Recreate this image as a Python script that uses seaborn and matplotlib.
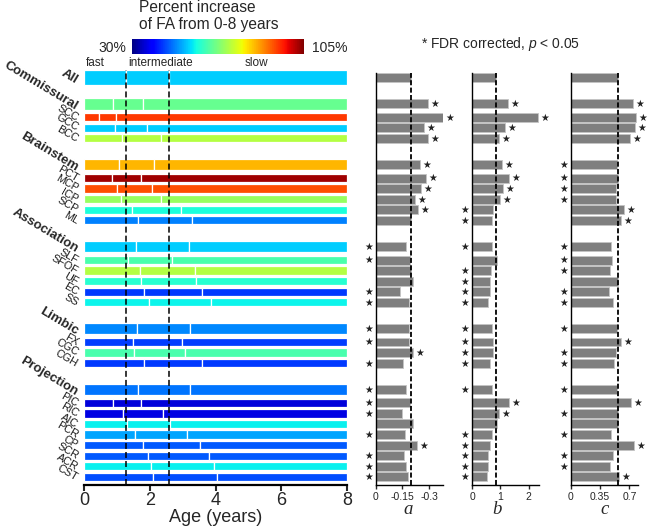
import numpy as np
import pandas as pd
import matplotlib
matplotlib.use("Agg")
import matplotlib.pyplot as plt
import matplotlib.colors as mcolors
import matplotlib.cm as cm
import seaborn as sns

sns.set_style("ticks")
plt.rcParams["font.family"] = ["Liberation Sans", "DejaVu Sans"]
plt.rcParams["mathtext.fontset"] = "custom"
plt.rcParams["mathtext.it"] = "Liberation Sans:italic"
plt.rcParams["mathtext.rm"] = "Liberation Sans"

# ---------------- data ----------------
rows = ["All", "Commissural", "SCC", "GCC", "BCC",
        "Brainstem", "PCT", "MCP", "ICP", "SCP", "ML",
        "Association", "SLF", "SFOF", "UF", "EC", "SS",
        "Limbic", "FX", "CGC", "CGH",
        "Projection", "PIC", "RIC", "AIC", "PCR", "CP", "SCR", "ACR", "CST"]
is_group = [True, True, False, False, False,
            True, False, False, False, False, False,
            True, False, False, False, False, False,
            True, False, False, False,
            True, False, False, False, False, False, False, False, False]

# percent increase of FA from 0-8 years (colour)
pct_increase = [54.4, 65.5, 93.8, 54.4, 72.5,
                83.7, 102.8, 92.0, 70.0, 59.0, 48.8,
                54.4, 63.0, 72.5, 59.8, 43.5, 57.5,
                49.6, 44.0, 63.0, 43.5,
                48.0, 36.0, 36.5, 57.2, 51.6, 46.0, 46.0, 57.0, 45.0]
# transition ages (years): fast -> intermediate, intermediate -> slow
break1 = [1.27, 0.89, 0.47, 0.94, 1.17,
          1.07, 0.86, 1.00, 1.14, 1.47, 1.64,
          1.58, 1.33, 1.70, 1.73, 1.81, 1.97,
          1.61, 1.49, 1.53, 1.81,
          1.63, 0.88, 1.18, 1.30, 1.56, 1.78, 1.95, 2.03, 2.09]
break2 = [2.59, 1.80, 0.97, 1.92, 2.35,
          2.14, 1.73, 2.06, 2.33, 2.95, 3.28,
          3.19, 2.68, 3.37, 3.40, 3.58, 3.85,
          3.23, 2.99, 3.06, 3.58,
          3.23, 1.73, 2.40, 2.61, 3.14, 3.52, 3.81, 3.96, 4.05]
age_max = 8

coef_a = [-0.200, -0.292, -0.377, -0.272, -0.296,
          -0.251, -0.285, -0.257, -0.223, -0.236, -0.200,
          -0.170, -0.191, -0.196, -0.211, -0.138, -0.189,
          -0.185, -0.187, -0.211, -0.151,
          -0.172, -0.191, -0.147, -0.211, -0.164, -0.230, -0.160, -0.172, -0.179]
coef_b = [0.86, 1.27, 2.33, 1.18, 0.96,
          1.05, 1.31, 1.11, 0.98, 0.76, 0.69,
          0.72, 0.87, 0.66, 0.65, 0.62, 0.56,
          0.71, 0.76, 0.74, 0.62,
          0.71, 1.31, 0.96, 0.88, 0.72, 0.64, 0.58, 0.55, 0.54]
coef_c = [0.567, 0.742, 0.782, 0.766, 0.710,
          0.552, 0.563, 0.540, 0.540, 0.631, 0.603,
          0.480, 0.488, 0.464, 0.567, 0.460, 0.508,
          0.552, 0.599, 0.544, 0.516,
          0.552, 0.718, 0.563, 0.567, 0.476, 0.754, 0.500, 0.472, 0.575]
# significance markers: R = star right of bar, L = star left of axis
sig_a = ["", "R", "R", "R", "R", "R", "R", "R", "R", "R", "",
         "L", "L", "", "", "L", "L", "L", "L", "R", "L",
         "L", "L", "L", "", "L", "R", "L", "L", "L"]
sig_b = ["", "R", "R", "R", "R", "R", "R", "R", "R", "L", "L",
         "L", "", "L", "L", "L", "L", "L", "L", "L", "L",
         "L", "R", "R", "", "L", "L", "L", "L", "L"]
sig_c = ["", "R", "R", "R", "R", "L", "L", "L", "L", "R", "R",
         "L", "L", "L", "", "L", "L", "L", "R", "L", "L",
         "L", "R", "L", "", "L", "R", "L", "L", "R"]

age_ticks = [0, 2, 4, 6, 8]
ticks_a = [0, -0.15, -0.3]
ticks_b = [0, 1, 2]
ticks_c = [0, 0.35, 0.7]
tick_labels_a = ["0", "-0.15", "-0.3"]
tick_labels_b = ["0", "1", "2"]
tick_labels_c = ["0", "0.35", "0.7"]

# ---------------- layout ----------------
W, H = 650, 530
fig = plt.figure(figsize=(W / 100, H / 100), dpi=100)


def px_rect(x0, y0, x1, y1):
    return [x0 / W, 1 - y1 / H, (x1 - x0) / W, (y1 - y0) / H]


U0, UPX = 77.5, 5.29


def px2u(p):
    return (p - U0) / UPX


ypos = []
u = 0.0
for i, g in enumerate(is_group):
    if i == 0:
        u = 0.0
    elif g:
        u += 5.0
    elif is_group[i - 1]:
        u += 2.5
    else:
        u += 2.0
    ypos.append(u)

cmap = plt.get_cmap("jet")
norm = mcolors.Normalize(30, 105)

# ---------------- left panel ----------------
axL = fig.add_axes(px_rect(84, 69.6, 347, 485))
for i in range(len(rows)):
    h = 2.8 if i == 0 else (2.15 if is_group[i] else 1.55)
    c = cmap(norm(pct_increase[i]))
    lefts = [0, break1[i], break2[i]]
    widths = [break1[i], break2[i] - break1[i], age_max - break2[i]]
    axL.barh([ypos[i]] * 3, widths, left=lefts, height=h, color=c,
             edgecolor="white", linewidth=0.9, zorder=2)
    if is_group[i]:
        axL.annotate(rows[i], xy=(0, ypos[i]), xytext=(-5.0, -2.5),
                     textcoords="offset points", rotation=-31,
                     rotation_mode="anchor", ha="right", va="center",
                     fontsize=9.5, fontweight="bold", annotation_clip=False)
    else:
        axL.annotate(rows[i], xy=(0, ypos[i]), xytext=(-4.8, -0.8),
                     textcoords="offset points", rotation=-30,
                     rotation_mode="anchor", ha="right", va="center",
                     fontsize=7.8, color="#1a1a1a", annotation_clip=False)
for b in (break1[0], break2[0]):
    axL.axvline(b, color="black", lw=1.1, ls=(0, (3.9, 2.0)), zorder=4)
axL.set_xlim(0, age_max)
axL.set_ylim(px2u(485), px2u(69.6))
axL.set_yticks([])
axL.set_xticks(age_ticks)
axL.tick_params(axis="x", length=4, width=1.5, labelsize=13, pad=1)
for s in ("left", "top", "right"):
    axL.spines[s].set_visible(False)
axL.spines["bottom"].set_linewidth(1.6)
axL.spines["bottom"].set_color("black")

fig.text(215.5 / W, 1 - 521.5 / H, "Age (years)", ha="center", va="baseline",
         fontsize=13)
fig.text(86 / W, 1 - 62.5 / H, "fast", ha="left", va="center", fontsize=8.5)
fig.text(128 / W, 1 - 62.5 / H, "intermediate", ha="left", va="center", fontsize=8.5)
fig.text(245 / W, 1 - 62.5 / H, "slow", ha="left", va="center", fontsize=8.5)

# colour bar
cax = fig.add_axes(px_rect(131.7, 39.3, 304, 54))
cb = fig.colorbar(cm.ScalarMappable(norm=norm, cmap=cmap), cax=cax,
                  orientation="horizontal")
cb.set_ticks([])
cb.outline.set_visible(False)
fig.text(126 / W, 1 - 47.5 / H, "30%", ha="right", va="center", fontsize=10)
fig.text(312 / W, 1 - 47.5 / H, "105%", ha="left", va="center", fontsize=10)
fig.text(139 / W, 1 - 12 / H, "Percent increase", ha="left", va="baseline",
         fontsize=11.2)
fig.text(139 / W, 1 - 28.5 / H, "of FA from 0-8 years", ha="left",
         va="baseline", fontsize=11.2)

fig.text(500.5 / W, 1 - 44 / H, r"* FDR corrected, $p$ < 0.05", ha="center",
         va="center", fontsize=10)

# ---------------- right panels ----------------
panels = [
    (coef_a, sig_a, (0, -0.377), ticks_a, tick_labels_a, 375.7, 442.7, "a", 408),
    (coef_b, sig_b, (0, 2.38), ticks_b, tick_labels_b, 472.0, 539.3, "b", 497),
    (coef_c, sig_c, (0, 0.805), ticks_c, tick_labels_c, 570.7, 638.3, "c", 605),
]
for vals, sig, xlim, ticks, tlabels, x0, x1, lab, labx in panels:
    ax = fig.add_axes(px_rect(x0, 73, x1, 485))
    df = pd.DataFrame({"value": vals, "pos": ypos})
    sns.barplot(data=df, x="value", y="pos", orient="y", native_scale=True,
                color="#7f7f7f", saturation=1, width=0.85, errorbar=None,
                edgecolor="#c4c4c4", linewidth=0.6, ax=ax, zorder=2)
    ax.axvline(vals[0], color="black", lw=1.3, ls=(0, (2.8, 1.3)), zorder=5)
    for i, s in enumerate(sig):
        if s == "R":
            ax.annotate("\u2605", xy=(vals[i], ypos[i]), xytext=(4.8, -0.3),
                        textcoords="offset points", ha="center", va="center",
                        fontsize=7, family="DejaVu Sans", color="#222222",
                        annotation_clip=False)
        elif s == "L":
            ax.annotate("\u2605", xy=(0, ypos[i]), xytext=(-5.0, -0.3),
                        textcoords="offset points", ha="center", va="center",
                        fontsize=7, family="DejaVu Sans", color="#222222",
                        annotation_clip=False)
    ax.set_xlim(*xlim)
    ax.set_ylim(px2u(485), px2u(73))
    ax.set_yticks([])
    ax.set_xticks(ticks)
    ax.set_xticklabels(tlabels)
    ax.set_xlabel("")
    ax.set_ylabel("")
    ax.tick_params(axis="x", length=3, width=1, labelsize=7.5, pad=2)
    ax.tick_params(axis="y", left=False)
    for s in ("top", "right"):
        ax.spines[s].set_visible(False)
    for s in ("left", "bottom"):
        ax.spines[s].set_linewidth(1.0)
        ax.spines[s].set_color("black")
    fig.text(labx / W, 1 - 514 / H, lab, ha="center", va="baseline",
             fontsize=13.5, family="Liberation Serif", style="italic")

fig.savefig("out.png", dpi=100, facecolor="white")
